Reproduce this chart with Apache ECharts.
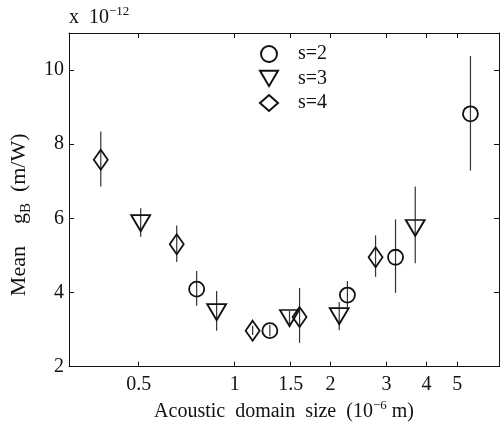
<!DOCTYPE html>
<html>
<head>
<meta charset="utf-8">
<script src="https://cdn.jsdelivr.net/npm/echarts@6/dist/echarts.min.js"></script>
<style>
html, body { margin: 0; padding: 0; background: #fff; }
#chart { width: 500px; height: 427px; }
</style>
</head>
<body>
<div id="chart"></div>
<script>
// acoustic domain size (1e-6 m), mean gB (1e-12 m/W) and error bar ends
var s2Size = [0.76, 1.29, 2.26, 3.2, 5.5]
var s2Mean = [4.09, 2.97, 3.93, 4.95, 8.82]
var s2Low = [3.64, 2.82, 3.6, 3.99, 7.29]
var s2High = [4.58, 3.12, 4.31, 5.97, 10.38]

var s3Size = [0.507, 0.878, 1.487, 2.13, 3.69]
var s3Mean = [5.87, 3.47, 3.31, 3.36, 5.74]
var s3Low = [5.5, 2.97, 3.1, 2.98, 4.79]
var s3High = [6.27, 4.04, 3.5, 3.74, 6.86]

var s4Size = [0.38, 0.658, 1.139, 1.599, 2.77]
var s4Mean = [7.58, 5.3, 2.97, 3.34, 4.95]
var s4Low = [6.86, 4.82, 2.85, 2.64, 4.42]
var s4High = [8.34, 5.81, 3.1, 4.12, 5.54]

var xTickValues = [0.5, 1, 1.5, 2, 3, 4, 5]
var xTickLabels = ['0.5', '1', '1.5', '2', '3', '4', '5']
var yTickValues = [2, 4, 6, 8, 10]

var FONT = 'Liberation Serif'
var INK = '#111'
var FS = 20

// x axis is drawn in log10 space
var xTickPos = xTickValues.map(function (v) { return Math.log10(v) })

function points(size, mean) {
  return size.map(function (s, i) { return [Math.log10(s), mean[i]] })
}

function errorBars(size, low, high) {
  return {
    type: 'custom',
    silent: true,
    z: 1,
    encode: { x: 0, y: [1, 2] },
    data: size.map(function (s, i) { return [Math.log10(s), low[i], high[i]] }),
    renderItem: function (params, api) {
      var a = api.coord([api.value(0), api.value(1)])
      var b = api.coord([api.value(0), api.value(2)])
      return {
        type: 'line',
        shape: { x1: a[0], y1: a[1], x2: b[0], y2: b[1] },
        style: { stroke: '#333', lineWidth: 1.2 }
      }
    }
  }
}

function markers(name, symbol, symbolSize, size, mean) {
  return {
    name: name,
    type: 'scatter',
    symbol: symbol,
    symbolSize: symbolSize,
    z: 2,
    data: points(size, mean),
    itemStyle: { color: 'rgba(0,0,0,0)', borderColor: INK, borderWidth: 1.8, opacity: 1 },
    emphasis: { disabled: true }
  }
}

var tickLabel = {
  fontFamily: FONT,
  fontSize: FS,
  color: INK
}

var axisLine = { show: true, onZero: false, lineStyle: { color: INK, width: 1 } }

var chart = echarts.init(document.getElementById('chart'))
chart.setOption({
  animation: false,
  title: {
    text: '{t|x  10}{p|−12}',
    left: 69,
    top: 5,
    padding: 0,
    textStyle: {
      rich: {
        t: { fontFamily: FONT, fontSize: FS, fontWeight: 'normal', color: INK },
        p: { fontFamily: FONT, fontSize: 13, fontWeight: 'normal', color: INK, padding: [0, 0, 12, 0] }
      }
    }
  },
  legend: {
    data: ['s=2', 's=3', 's=4'],
    orient: 'vertical',
    left: 259,
    top: 44,
    padding: 0,
    itemWidth: 18,
    itemHeight: 16,
    itemGap: 4.5,
    selectedMode: false,
    textStyle: { fontFamily: FONT, fontSize: FS, lineHeight: 20, color: INK, padding: [0, 0, 0, 15] }
  },
  grid: { left: 69, right: 1, top: 33, bottom: 58 },
  xAxis: [{
    type: 'value',
    min: -0.52,
    max: 0.83,
    position: 'bottom',
    name: '{t|Acoustic  domain  size  (10}{p|−6}{t| m)}',
    nameLocation: 'middle',
    nameGap: 30,
    nameTextStyle: {
      rich: {
        t: { fontFamily: FONT, fontSize: FS, color: INK },
        p: { fontFamily: FONT, fontSize: 13, color: INK, padding: [0, 0, 12, 0] }
      }
    },
    axisLine: axisLine,
    axisTick: { customValues: xTickPos, inside: true, length: 5, lineStyle: { color: INK } },
    axisLabel: Object.assign({
      customValues: xTickPos,
      margin: 8,
      formatter: function (v) {
        for (var i = 0; i < xTickPos.length; i++) {
          if (Math.abs(xTickPos[i] - v) < 1e-6) return xTickLabels[i]
        }
        return ''
      }
    }, tickLabel),
    splitLine: { show: false }
  }, {
    type: 'value',
    min: -0.52,
    max: 0.83,
    position: 'top',
    axisLine: axisLine,
    axisTick: { customValues: xTickPos, inside: true, length: 5, lineStyle: { color: INK } },
    axisLabel: { show: false },
    splitLine: { show: false }
  }],
  yAxis: [{
    type: 'value',
    min: 2,
    max: 11,
    position: 'left',
    name: '{t|Mean    g}{s|B}{e|  (m/W)}',
    nameLocation: 'middle',
    nameRotate: 90,
    nameGap: 33,
    nameTextStyle: {
      rich: {
        t: { fontFamily: FONT, fontSize: 22, color: INK },
        s: { fontFamily: FONT, fontSize: 15, color: INK, padding: [13, 0, 0, 0] },
        e: { fontFamily: FONT, fontSize: 22, color: INK, padding: [0, 30, 0, 0] }
      }
    },
    axisLine: axisLine,
    axisTick: { customValues: yTickValues, inside: true, length: 5, lineStyle: { color: INK } },
    axisLabel: Object.assign({ customValues: yTickValues, margin: 5 }, tickLabel),
    splitLine: { show: false }
  }, {
    type: 'value',
    min: 2,
    max: 11,
    position: 'right',
    axisLine: axisLine,
    axisTick: { customValues: yTickValues, inside: true, length: 5, lineStyle: { color: INK } },
    axisLabel: { show: false },
    splitLine: { show: false }
  }],
  series: [
    errorBars(s2Size, s2Low, s2High),
    errorBars(s3Size, s3Low, s3High),
    errorBars(s4Size, s4Low, s4High),
    markers('s=2', 'circle', 15, s2Size, s2Mean),
    markers('s=3', 'path://M0,0 L2,0 L1,1.7 Z', [19, 16], s3Size, s3Mean),
    markers('s=4', 'diamond', [14, 20], s4Size, s4Mean)
  ]
})
</script>
</body>
</html>
